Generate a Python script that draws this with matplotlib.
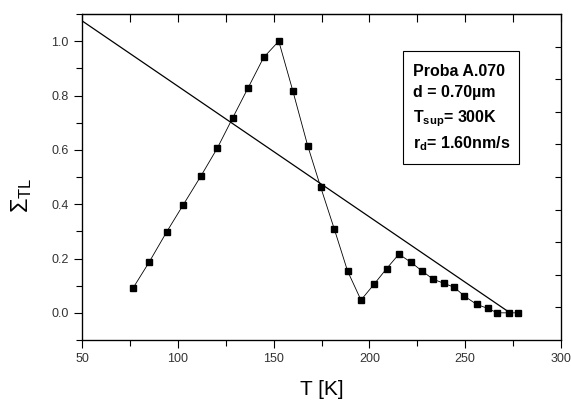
import matplotlib
matplotlib.use("Agg")
import matplotlib.pyplot as plt
from matplotlib.patches import Rectangle
from matplotlib.ticker import MultipleLocator, FormatStrFormatter

plt.rcParams.update({
    'font.family': 'Liberation Sans',
    'mathtext.fontset': 'custom',
    'mathtext.rm': 'Liberation Sans',
    'mathtext.it': 'Liberation Sans',
    'mathtext.bf': 'Liberation Sans:bold',
})

# TL data
temp = [76.8, 85.0, 94.2, 102.7, 112.1, 120.6, 128.6, 136.6, 144.8, 152.7,
        160.0, 167.8, 174.6, 181.7, 188.6, 195.6, 202.4, 209.0, 215.4, 221.7,
        227.3, 233.2, 239.1, 244.3, 249.5, 256.0, 261.9, 266.7, 272.7, 277.7]
sigma_tl = [0.093, 0.186, 0.298, 0.396, 0.504, 0.606, 0.717, 0.827, 0.940, 1.000,
            0.818, 0.615, 0.462, 0.308, 0.154, 0.047, 0.105, 0.163, 0.216, 0.186,
            0.155, 0.124, 0.108, 0.094, 0.062, 0.031, 0.016, 0.000, 0.000, 0.000]

# straight reference line
line_t = [50, 273.4]
line_s = [1.075, 0.0]

info_lines = ["Proba A.070",
              "d = 0.70\u00b5m",
              r"T$_{\mathbf{sup}}$= 300K",
              r"r$_{\mathbf{d}}$= 1.60nm/s"]
info_baselines = [0.809, 0.744, 0.669, 0.589]

fig = plt.figure(figsize=(5.71, 4.05), dpi=100)
ax = fig.add_axes([0.1436, 0.1605, 0.8389, 0.8049])

ax.plot(line_t, line_s, color='black', lw=0.9)
ax.plot(temp, sigma_tl, color='black', lw=0.6, marker='s', markersize=4.3)

ax.set_xlim(50, 300)
ax.set_ylim(-0.1, 1.1)
ax.xaxis.set_major_locator(MultipleLocator(50))
ax.xaxis.set_minor_locator(MultipleLocator(25))
ax.yaxis.set_major_locator(MultipleLocator(0.2))
ax.yaxis.set_minor_locator(MultipleLocator(0.1))
ax.yaxis.set_major_formatter(FormatStrFormatter('%.1f'))
ax.tick_params(which='major', length=6, width=0.8, labelsize=9, labelcolor='#333333')
ax.tick_params(which='minor', length=4, width=0.8)
for s in ax.spines.values():
    s.set_linewidth(0.9)

# top ticks (no labels)
top = ax.secondary_xaxis('top')
top.xaxis.set_major_locator(MultipleLocator(25))
top.tick_params(direction='in', length=6, width=0.8, labeltop=False)

# right ticks on their own scale
right = ax.twinx()
right.set_ylim(0, 10)
right.set_yticks(range(1, 10))
right.tick_params(direction='in', length=4.3, width=0.8, labelright=False)

ax.set_xlabel("T [K]", fontsize=15, labelpad=11)
ax.set_ylabel(r"$\Sigma_{\mathrm{TL}}$", fontsize=17)
ax.yaxis.set_label_coords(-0.10, 0.445)

# info box
ax.add_patch(Rectangle((0.671, 0.541), 0.242, 0.346, transform=ax.transAxes,
                       facecolor='white', edgecolor='black', lw=0.8, zorder=5))
for line, yb in zip(info_lines, info_baselines):
    ax.text(0.690, yb, line, transform=ax.transAxes,
            fontsize=11.5, fontweight='bold', va='baseline', ha='left', zorder=6)

fig.savefig("out.png", dpi=100)
